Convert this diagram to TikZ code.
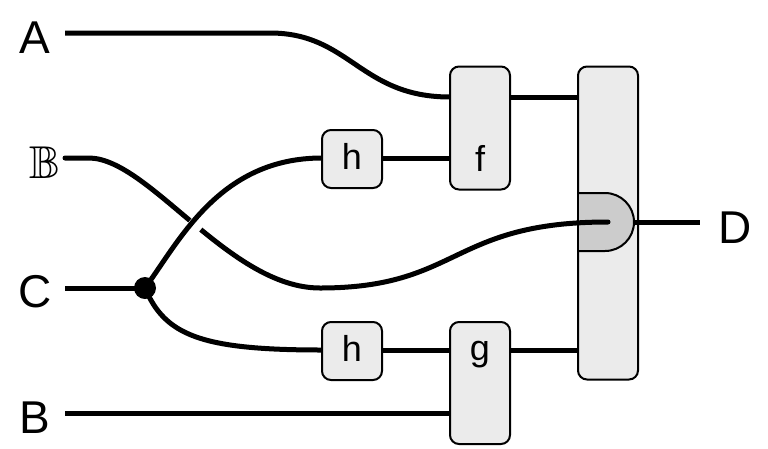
\documentclass[tikz,border=0pt]{standalone}
\usepackage{amssymb}
\usepackage{fontspec}
\setmainfont{Liberation Sans}
\begin{document}
\begin{tikzpicture}[x=1pt,y=-1pt,
  wire/.style={line width=5pt},
  box/.style={draw,line width=2pt,fill=black!8,rounded corners=9pt,inner sep=0pt},
  lab/.style={font=\fontsize{46}{46}\selectfont},
  blab/.style={font=\fontsize{36}{36}\selectfont}]
\useasboundingbox (0,0) rectangle (768,448);
\node[box,minimum width=60pt,minimum height=123pt] (f) at (480,128) {};
\node[blab] at (480,158) {f};
\node[box,minimum width=60pt,minimum height=122pt] (g) at (480,383) {};
\node[blab] at (480,355) {g};
\node[box,minimum width=60pt,minimum height=313pt] (R) at (608,223) {};
\node[box,minimum width=60pt,minimum height=58pt] (h1) at (352,159) {};
\node[blab] at (352,156) {h};
\node[box,minimum width=60pt,minimum height=58pt] (h2) at (352,351) {};
\node[blab] at (352,348) {h};
\coordinate (j) at (608,222);
\fill[black!20] (579,193) -- (605,193) arc (-90:90:29) -- (579,251) -- cycle;
\draw[line width=2pt] (579,193) -- (605,193) arc (-90:90:29) -- (579,251);
\node[lab] (A) at (35,38) {A};
\node[lab] (Bb) at (45,163) {$\mathbb{B}$};
\node[lab] (C) at (35,292) {C};
\node[lab] (B) at (35,418) {B};
\node[lab] (D) at (735,228) {D};
\coordinate (dot) at (145,288);
\draw[wire] (65,33) -- (270,33) .. controls (350,33) and (360,97) .. (450,97);
\draw[wire] (510,97) -- (578,97);
\draw[wire] (382,158) -- (450,158);
\draw[wire] (382,350) -- (450,350);
\draw[wire] (510,350) -- (578,350);
\draw[wire] (65,413) -- (450,413);
\draw[wire] (634,222) -- (700,222);
\draw[wire] (65,288) -- (dot);
\draw[wire,line cap=round] (65,158) -- (90,158) .. controls (150,160) and (230,288) .. (320,288) .. controls (460,288) and (450,222) .. (j);
\draw[white,line width=14pt] (160,270) -- (215,200);
\draw[wire] (dot) .. controls (180,240) and (220,158) .. (322,158);
\draw[wire] (dot) .. controls (165,335) and (200,350) .. (322,350);
\fill (dot) circle (11pt);
\end{tikzpicture}
\end{document}
